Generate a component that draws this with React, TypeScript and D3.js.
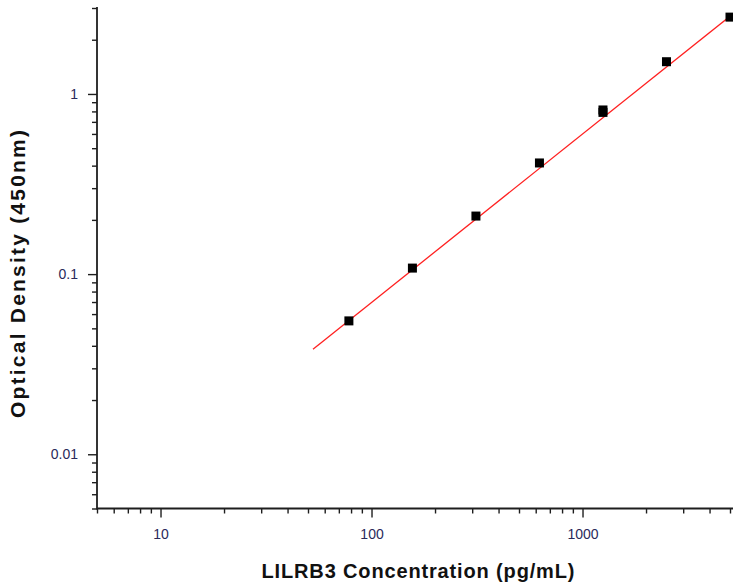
import React, { useEffect, useRef } from "react";
import * as d3 from "d3";

// standard curve readings
const concentrations = [78.125, 156.25, 312.5, 625, 1250, 1250, 2500, 5000];
const opticalDensity = [0.055, 0.108, 0.21, 0.414, 0.79, 0.815, 1.51, 2.67];

// fitted line end points
const fitConc = [52.8, 5200];
const fitOD = [0.0383, 2.8];

const xMajorTicks = [10, 100, 1000];
const xMinorTicks = [5, 6, 7, 8, 9, 20, 30, 40, 50, 60, 70, 80, 90, 200, 300, 400, 500, 600, 700, 800, 900, 2000, 3000, 4000, 5000];
const yMajorTicks = [0.01, 0.1, 1];
const yMinorTicks = [0.005, 0.006, 0.007, 0.008, 0.009, 0.02, 0.03, 0.04, 0.05, 0.06, 0.07, 0.08, 0.09, 0.2, 0.3, 0.4, 0.5, 0.6, 0.7, 0.8, 0.9, 2, 3];

const xTitle = "LILRB3 Concentration (pg/mL)";
const yTitle = "Optical Density (450nm)";

const width = 733;
const height = 587;

const App: React.FC = () => {
  const svgRef = useRef<SVGSVGElement | null>(null);

  useEffect(() => {
    const svg = d3.select(svgRef.current);
    svg.selectAll("*").remove();

    const x = d3.scaleLog().domain([5, 5000]).range([97, 730]);
    const y = d3.scaleLog().domain([0.005, 3]).range([508.5, 8]);

    const axisColor = "#1e1e1e";
    const labelColor = "#2a2a5a";
    const font = "'Liberation Sans', Arial, sans-serif";

    // x axis: minor then major
    const xMinor = svg
      .append("g")
      .attr("transform", `translate(0,${y(0.005)})`)
      .call(d3.axisBottom(x).tickValues(xMinorTicks).tickSize(5).tickFormat(() => ""));
    const xMajor = svg
      .append("g")
      .attr("transform", `translate(0,${y(0.005)})`)
      .call(
        d3.axisBottom(x).tickValues(xMajorTicks).tickSize(9).tickPadding(12).tickFormat(d3.format("d"))
      );

    // y axis: minor then major
    const yMinor = svg
      .append("g")
      .attr("transform", `translate(${x(5)},0)`)
      .call(d3.axisLeft(y).tickValues(yMinorTicks).tickSize(5).tickFormat(() => ""));
    const yMajor = svg
      .append("g")
      .attr("transform", `translate(${x(5)},0)`)
      .call(
        d3.axisLeft(y).tickValues(yMajorTicks).tickSize(9).tickPadding(10).tickFormat((d) => `${d}`)
      );

    [xMinor, xMajor, yMinor, yMajor].forEach((g) => {
      g.selectAll(".tick line").attr("stroke", axisColor).attr("stroke-width", 1.4);
      g.selectAll(".tick text")
        .attr("fill", labelColor)
        .style("font-family", font)
        .style("font-size", "14px");
      g.select(".domain").remove();
    });

    // axis lines
    svg
      .append("line")
      .attr("x1", x(5))
      .attr("x2", width)
      .attr("y1", y(0.005))
      .attr("y2", y(0.005))
      .attr("stroke", axisColor)
      .attr("stroke-width", 1.8);
    svg
      .append("line")
      .attr("x1", x(5))
      .attr("x2", x(5))
      .attr("y1", y(0.005) + 1)
      .attr("y2", y(3) - 1)
      .attr("stroke", axisColor)
      .attr("stroke-width", 1.8);

    // fitted curve
    const fitData = fitConc.map((c, i) => [c, fitOD[i]] as [number, number]);
    svg
      .append("path")
      .datum(fitData)
      .attr("fill", "none")
      .attr("stroke", "#ff2020")
      .attr("stroke-width", 1.3)
      .attr(
        "d",
        d3
          .line<[number, number]>()
          .x((d) => x(d[0]))
          .y((d) => y(d[1]))
      );

    // points
    const size = 9;
    svg
      .selectAll(".pt")
      .data(concentrations.map((c, i) => [c, opticalDensity[i]]))
      .join("rect")
      .attr("class", "pt")
      .attr("x", (d) => x(d[0]) - size / 2)
      .attr("y", (d) => y(d[1]) - size / 2)
      .attr("width", size)
      .attr("height", size)
      .attr("fill", "#000");

    // titles
    svg
      .append("text")
      .attr("x", 418)
      .attr("y", 578)
      .attr("text-anchor", "middle")
      .attr("textLength", 313)
      .attr("lengthAdjust", "spacing")
      .style("font-family", font)
      .style("font-weight", "bold")
      .style("font-size", "20px")
      .attr("fill", "#111")
      .text(xTitle);

    svg
      .append("text")
      .attr("transform", "translate(25,274) rotate(-90)")
      .attr("text-anchor", "middle")
      .attr("textLength", 288)
      .attr("lengthAdjust", "spacing")
      .style("font-family", font)
      .style("font-weight", "bold")
      .style("font-size", "21px")
      .attr("fill", "#111")
      .text(yTitle);
  }, []);

  return (
    <div style={{ position: "absolute", left: 0, top: 0 }}>
      <svg ref={svgRef} width={width} height={height} style={{ display: "block", background: "#fff" }} />
    </div>
  );
};

export default App;
